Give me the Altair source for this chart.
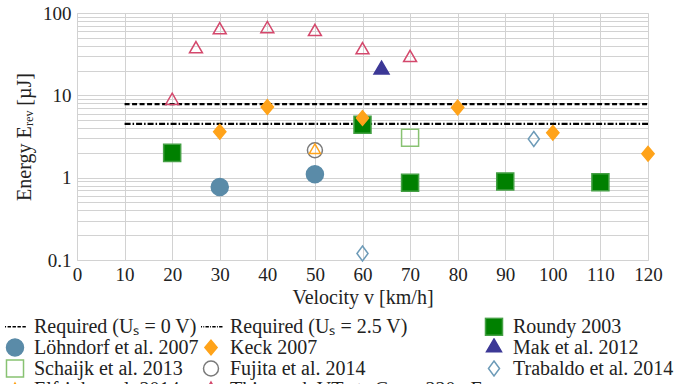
import altair as alt
import pandas as pd

FONT = "Liberation Serif, Times New Roman, serif"

# ---- data -------------------------------------------------------------
series_names = [
    "Required (Uₛ = 0 V)",
    "Required (Uₛ = 2.5 V)",
    "Roundy 2003",
    "Löhndorf et al. 2007",
    "Keck 2007",
    "Mak et al. 2012",
    "Schaijk et al. 2013",
    "Fujita et al. 2014",
    "Trabaldo et al. 2014",
    "Elfrink et al. 2014",
    "Thin-pack VT\u2002+\u2002Cₛ\u2002=\u2002220 nF",
]

required_levels = [7.8, 4.5]
required_start = [10, 10]
required_end = [120, 120]

roundy_v = [20, 60, 70, 90, 110]
roundy_e = [2.0, 4.4, 0.87, 0.9, 0.88]
lohndorf_v = [30, 50]
lohndorf_e = [0.77, 1.1]
keck_v = [30, 40, 60, 80, 100, 120]
keck_e = [3.6, 7.2, 5.3, 7.1, 3.5, 1.95]
mak_v = [64]
mak_e = [20.5]
schaijk_v = [70]
schaijk_e = [3.05]
fujita_v = [50]
fujita_e = [2.15]
trabaldo_v = [60, 96]
trabaldo_e = [0.12, 2.95]
elfrink_v = [50]
elfrink_e = [2.15]
thin_v = [20, 25, 30, 40, 50, 60, 70]
thin_e = [8.6, 36.5, 62, 64, 59, 35.5, 28.6]

x_ticks = list(range(0, 121, 10))
y_grid = [round(m * 10.0 ** p, 4) for p in (-1, 0, 1) for m in range(1, 10)] + [100]

# ---- styles ------------------------------------------------------------
dash_path = ("M-1.45,0H-1.05M-0.87,0H-0.47M-0.29,0H0.11M0.29,0H0.69"
             "M0.87,0H1.27")
dashdot_path = ("M-1.45,0H-1.05M-0.9,0H-0.8M-0.65,0H-0.25M-0.1,0H0"
                "M0.15,0H0.55M0.7,0H0.8M0.95,0H1.35")
circle_big = "circle"
circle_small = "M-0.88,0A0.88,0.88 0 1,0 0.88,0A0.88,0.88 0 1,0 -0.88,0Z"
diamond_keck = "M0,-0.86L0.72,0L0,0.86L-0.72,0Z"
diamond_trab = "M0,-0.88L0.65,0L0,0.88L-0.65,0Z"
tri_mak = "M0,-1.0L0.88,0.5L-0.88,0.5Z"
tri_thin = "M0,-0.88L0.76,0.44L-0.76,0.44Z"
tri_elf = "M0,-0.75L0.65,0.375L-0.65,0.375Z"

fill_range = ["transparent", "transparent", "#008000", "#5a8ba8", "#ffa31a",
              "#3c3896", "transparent", "transparent", "transparent",
              "transparent", "transparent"]
stroke_range = ["#000000", "#000000", "#45a045", "#5a8ba8", "#ffa31a",
                "#3c3896", "#88c272", "#7a7a7a", "#6d9bb8", "#ffa31a", "#d4486c"]
shape_range = [dash_path, dashdot_path, "square", circle_big, diamond_keck,
               tri_mak, "square", circle_small, diamond_trab, tri_elf, tri_thin]

# ---- tables -------------------------------------------------------------
groups = [
    (series_names[2], roundy_v, roundy_e),
    (series_names[3], lohndorf_v, lohndorf_e),
    (series_names[4], keck_v, keck_e),
    (series_names[5], mak_v, mak_e),
    (series_names[6], schaijk_v, schaijk_e),
    (series_names[7], fujita_v, fujita_e),
    (series_names[8], trabaldo_v, trabaldo_e),
    (series_names[9], elfrink_v, elfrink_e),
    (series_names[10], thin_v, thin_e),
]
rows = []
order = 0
for name, vs, es in groups:
    for v, e in zip(vs, es):
        rows.append({"series": name, "v": v, "E": e, "order": order})
        order += 1
points_df = pd.DataFrame(rows)

lines_df = pd.DataFrame({
    "series": series_names[:2],
    "level": required_levels,
    "start": required_start,
    "end": required_end,
})

x_scale = alt.Scale(domain=[0, 120], nice=False, zero=False)
y_scale = alt.Scale(type="log", domain=[0.1, 100], nice=False)

x_axis = alt.Axis(values=x_ticks, grid=True, ticks=False, domain=False,
                  labelFlush=False, labelOverlap=False,
                  labelFont=FONT, labelFontSize=19, labelColor="#222",
                  labelPadding=5, title="Velocity v [km/h]", titleFont=FONT,
                  titleFontSize=20, titleFontWeight="normal", titleColor="#222",
                  titlePadding=3, gridColor="#d2d2d2", gridWidth=1)
y_axis = alt.Axis(values=y_grid, grid=True, ticks=False, domain=False,
                  labelFlush=False, labelOverlap=False,
                  labelFont=FONT, labelFontSize=19, labelColor="#222",
                  labelPadding=6,
                  labelExpr="(datum.value == 0.1 || datum.value == 1 || datum.value == 10 || datum.value == 100) ? format(datum.value, '~g') : ''",
                  title="Energy Eᵣₑᵥ [µJ]", titleFont=FONT, titleFontSize=20,
                  titleFontWeight="normal", titleColor="#222", titlePadding=8,
                  gridColor="#d2d2d2", gridWidth=1)

base_lines = alt.Chart(lines_df)
line0 = base_lines.transform_filter(
    alt.datum.series == series_names[0]
).mark_rule(color="black", strokeWidth=2.3, strokeDash=[5, 2.5]).encode(
    x=alt.X("start:Q", scale=x_scale, axis=x_axis),
    x2="end:Q",
    y=alt.Y("level:Q", scale=y_scale, axis=y_axis),
)
line1 = base_lines.transform_filter(
    alt.datum.series == series_names[1]
).mark_rule(color="black", strokeWidth=2.3, strokeDash=[6, 2, 1.5, 2]).encode(
    x=alt.X("start:Q", scale=x_scale),
    x2="end:Q",
    y=alt.Y("level:Q", scale=y_scale),
)

legend = alt.Legend(
    title=None, orient="none", legendX=-72, legendY=304, columns=3,
    direction="horizontal", clipHeight=19,
    columnPadding=2, rowPadding=0, labelFont=FONT, labelFontSize=20,
    labelColor="#222", labelLimit=400, labelOffset=9, symbolStrokeWidth=1.5,
    symbolSize=290,
)

points = alt.Chart(points_df).mark_point(
    filled=True, opacity=1, strokeWidth=1.5, size=290
).encode(
    x=alt.X("v:Q", scale=x_scale),
    y=alt.Y("E:Q", scale=y_scale),
    fill=alt.Fill("series:N", scale=alt.Scale(domain=series_names, range=fill_range), legend=legend),
    stroke=alt.Stroke("series:N", scale=alt.Scale(domain=series_names, range=stroke_range), legend=legend),
    shape=alt.Shape("series:N", scale=alt.Scale(domain=series_names, range=shape_range), legend=legend),
    order=alt.Order("order:Q"),
)

chart = alt.layer(line0, line1, points).properties(
    width=571, height=247,
    autosize=alt.AutoSizeParams(type="none"),
    padding={"left": 77, "top": 13, "right": 51, "bottom": 140},
).configure_view(stroke="#333333", strokeWidth=1.6).configure(background="white")

chart.save("out.html", embed_options={"renderer": "svg", "actions": False})
